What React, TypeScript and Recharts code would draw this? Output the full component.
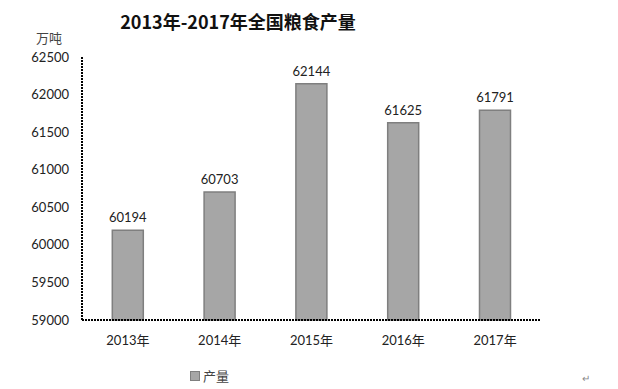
import React from 'react';
import { BarChart, Bar, XAxis, YAxis, LabelList } from 'recharts';

const years = ['2013年', '2014年', '2015年', '2016年', '2017年'];
const output = [60194, 60703, 62144, 61625, 61791];
const yTicks = [59000, 59500, 60000, 60500, 61000, 61500, 62000, 62500];
const seriesName = '产量';

const data = years.map((year, i) => ({ year, 产量: output[i] }));

const font = "Lato, 'Noto Sans CJK SC', sans-serif";
const cjk = "'Noto Sans CJK SC', sans-serif";
const dotted = { stroke: '#000', strokeWidth: 2, strokeDasharray: '2 1' };

const App: React.FC = () => {
  return (
    <div style={{ position: 'absolute', left: 0, top: 0, width: 618, height: 389, background: '#fff', fontFamily: font }}>
      <div style={{ position: 'absolute', left: 0, width: 476, top: 8, textAlign: 'center', fontSize: 18, fontWeight: 'bold', color: '#111', fontFamily: cjk }}>
        2013年-2017年全国粮食产量
      </div>
      <div style={{ position: 'absolute', left: 36, top: 28, fontSize: 13, color: '#444', fontFamily: cjk }}>
        万吨
      </div>
      {/* legend drawn by hand so it doesn't shrink the plot */}
      <div style={{ position: 'absolute', left: 190, top: 366, display: 'flex', alignItems: 'center', fontSize: 13, color: '#444', fontFamily: cjk }}>
        <span style={{ display: 'inline-block', width: 8, height: 8, background: '#a6a6a6', border: '1px solid #7f7f7f', marginRight: 3 }} />
        {seriesName}
      </div>
      <div style={{ position: 'absolute', left: 582, top: 372, fontSize: 10, color: '#888' }}>↵</div>
      <BarChart width={618} height={389} data={data} margin={{ top: 57, right: 77, bottom: 39, left: 0 }} barCategoryGap="33%">
        <XAxis
          dataKey="year"
          height={30}
          axisLine={dotted}
          tickLine={false}
          tickMargin={10}
          tick={{ fill: '#222', fontSize: 13, fontFamily: font }}
        />
        <YAxis
          width={82}
          domain={[59000, 62500]}
          ticks={yTicks}
          interval={0}
          axisLine={dotted}
          tickLine={false}
          tickMargin={7}
          tick={{ fill: '#222', fontSize: 13, fontFamily: font }}
        />
        <Bar dataKey="产量" fill="#a6a6a6" stroke="#7f7f7f" strokeWidth={1.5} isAnimationActive={false}>
          <LabelList dataKey="产量" position="top" offset={8} style={{ fill: '#222', fontSize: 13, fontFamily: font }} />
        </Bar>
      </BarChart>
    </div>
  );
};

export default App;
